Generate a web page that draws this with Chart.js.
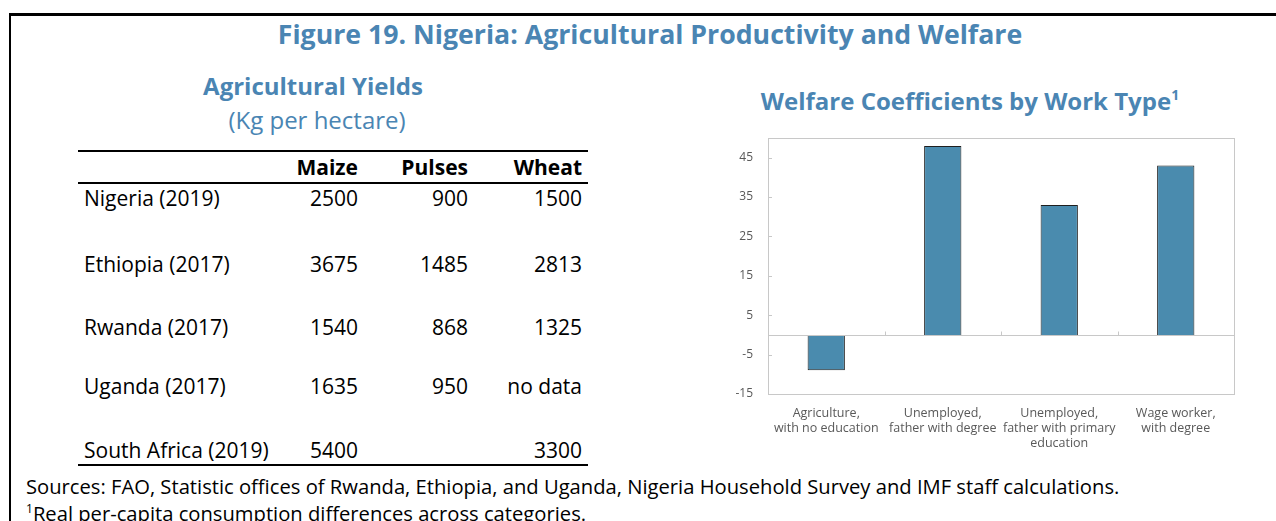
<!DOCTYPE html>
<html>
<head>
<meta charset="utf-8">
<script src="https://cdn.jsdelivr.net/npm/chart.js@4/dist/chart.umd.min.js"></script>
<style>
  html, body { margin: 0; padding: 0; background: #fff; }
  body { width: 1276px; height: 521px; position: relative; overflow: hidden; font-family: "Open Sans", "Noto Sans", sans-serif; color: #000; }
  .frame { position: absolute; left: 9px; top: 13px; right: -4px; bottom: -4px; border-left: 2px solid #000; border-top: 3px solid #000; }
  .blue { color: #4a85b3; }
  .title { position: absolute; left: 0; width: 1300px; top: 15px; text-align: center; font-weight: bold; font-size: 26.7px; }
  .subtitle { position: absolute; left: 113px; width: 400px; top: 69px; text-align: center; font-weight: bold; font-size: 24px; }
  .units { position: absolute; left: 117px; width: 400px; top: 103px; text-align: center; font-size: 24px; }
  .ctitle { position: absolute; left: 720px; width: 500px; top: 84px; text-align: center; font-weight: bold; font-size: 24px; }
  .ctitle sup { font-size: 14px; vertical-align: 10px; }
  table { position: absolute; left: 78px; top: 150px; width: 510px; table-layout: fixed; border-collapse: separate; border-spacing: 0; font-size: 21px; line-height: 28px; }
  table th, table td { padding: 0 6px; white-space: nowrap; }
  thead th { font-weight: bold; text-align: right; height: 30px; line-height: 30px; border-top: 2px solid #000; border-bottom: 2px solid #000; }
  tbody td { text-align: right; vertical-align: bottom; }
  tbody td:first-child { text-align: left; }
  tbody tr:last-child td { border-bottom: 2px solid #000; }
  .source { position: absolute; left: 26px; top: 472px; font-size: 20.2px; }
  .note { position: absolute; left: 26px; top: 499px; font-size: 20.2px; }
  .note sup { font-size: 12px; vertical-align: 8px; }
  #wrap { position: absolute; left: 700px; top: 130px; width: 560px; height: 330px; }
</style>
</head>
<body>
<div class="frame"></div>
<div class="title blue">Figure 19. Nigeria: Agricultural Productivity and Welfare</div>
<div class="subtitle blue">Agricultural Yields</div>
<div class="units blue">(Kg per hectare)</div>
<table id="yields">
  <colgroup><col style="width:212px"><col style="width:74px"><col style="width:110px"><col style="width:114px"></colgroup>
  <thead><tr><th></th><th>Maize</th><th>Pulses</th><th>Wheat</th></tr></thead>
  <tbody></tbody>
</table>
<div class="ctitle blue">Welfare Coefficients by Work Type<sup>1</sup></div>
<div id="wrap"><canvas id="chart"></canvas></div>
<div class="source">Sources: FAO, Statistic offices of Rwanda, Ethiopia, and Uganda, Nigeria Household Survey and IMF staff calculations.</div>
<div class="note"><sup>1</sup>Real per-capita consumption differences across categories.</div>

<script>
// Yields table (kg per hectare)
const countries = ['Nigeria (2019)', 'Ethiopia (2017)', 'Rwanda (2017)', 'Uganda (2017)', 'South Africa (2019)'];
const maize = [2500, 3675, 1540, 1635, 5400];
const pulses = [900, 1485, 868, 950, null];
const wheat = [1500, 2813, 1325, 'no data', 3300];

// Welfare coefficients chart
const workTypes = [
  ['Agriculture,', 'with no education'],
  ['Unemployed,', 'father with degree'],
  ['Unemployed,', 'father with primary', 'education'],
  ['Wage worker,', 'with degree']
];
const coefficients = [-9, 48, 33, 43];
const yTicks = [-15, -5, 5, 15, 25, 35, 45];

// uneven row spacing of the original table
const rowHeights = [28, 66, 63, 59, 64];

const tbody = document.querySelector('#yields tbody');
countries.forEach((name, i) => {
  const tr = document.createElement('tr');
  [name, maize[i], pulses[i], wheat[i]].forEach(v => {
    const td = document.createElement('td');
    td.style.height = rowHeights[i] + 'px';
    td.textContent = v == null ? '' : v;
    tr.appendChild(td);
  });
  tbody.appendChild(tr);
});

// box, zero line and small tick marks
const frameLines = {
  id: 'frameLines',
  afterDatasetsDraw(chart) {
    const { ctx, chartArea: a, scales: { x, y } } = chart;
    ctx.save();
    ctx.strokeStyle = '#c8c8c8';
    ctx.lineWidth = 1;
    ctx.strokeRect(Math.round(a.left) + 0.5, Math.round(a.top) + 0.5, Math.round(a.right - a.left), Math.round(a.bottom - a.top));
    const zy = Math.round(y.getPixelForValue(0)) + 0.5;
    ctx.beginPath();
    ctx.moveTo(a.left, zy);
    ctx.lineTo(a.right, zy);
    for (let i = 1; i < workTypes.length; i++) {
      const px = Math.round((x.getPixelForValue(i - 1) + x.getPixelForValue(i)) / 2) + 0.5;
      ctx.moveTo(px, zy);
      ctx.lineTo(px, zy - 4);
    }
    yTicks.forEach(v => {
      const py = Math.round(y.getPixelForValue(v)) + 0.5;
      ctx.moveTo(a.left, py);
      ctx.lineTo(a.left + 4, py);
    });
    ctx.stroke();
    ctx.restore();
  }
};

new Chart(document.getElementById('chart'), {
  type: 'bar',
  data: {
    labels: workTypes,
    datasets: [{
      data: coefficients,
      backgroundColor: '#4a8bae',
      borderColor: '#1f1f1f',
      borderWidth: 1,
      categoryPercentage: 1,
      barPercentage: 0.32
    }]
  },
  options: {
    responsive: true,
    maintainAspectRatio: false,
    animation: false,
    layout: { padding: { top: 8, right: 26, left: 0, bottom: 0 } },
    plugins: { legend: { display: false }, tooltip: { enabled: false } },
    scales: {
      x: {
        grid: { display: false },
        border: { display: false },
        ticks: {
          color: '#595959',
          font: { family: 'Open Sans', size: 12.5, lineHeight: 1.2 },
          padding: 4,
          maxRotation: 0,
          autoSkip: false
        },
        afterFit(scale) {
          scale.height = 66;
          scale.paddingLeft = 0;
          scale.paddingRight = 0;
        }
      },
      y: {
        min: -15,
        max: 50,
        grid: { display: false },
        border: { display: false },
        afterBuildTicks(scale) { scale.ticks = yTicks.map(v => ({ value: v })); },
        ticks: {
          color: '#595959',
          font: { family: 'Open Sans', size: 12 },
          padding: 7
        },
        afterFit(scale) {
          scale.width = 68;
          scale.paddingTop = 0;
          scale.paddingBottom = 0;
        }
      }
    }
  },
  plugins: [frameLines]
});
</script>
</body>
</html>
